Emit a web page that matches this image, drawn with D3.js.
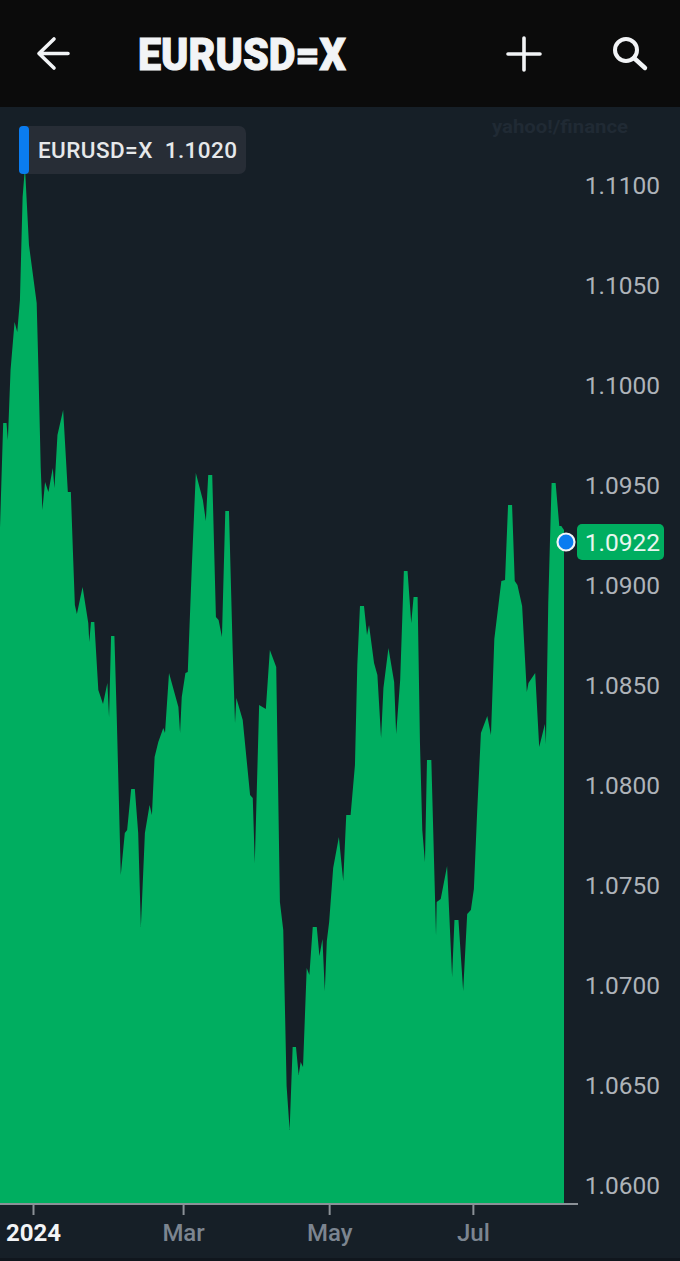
<!DOCTYPE html>
<html>
<head>
<meta charset="utf-8">
<script src="https://cdn.jsdelivr.net/npm/d3@7"></script>
<style>
  html,body{margin:0;padding:0;background:#161f27;}
  svg{display:block;}
  text{font-family:Roboto,"Noto Sans",sans-serif;}
</style>
</head>
<body>
<svg id="chart" width="680" height="1261"></svg>
<script>
const symbol = 'EURUSD=X';
const legendValue = '1.1020';
const lastValue = 1.0922;

// x is in trading sessions counted from the first one of 2024
const sessions = [-9.9,-8.9,-7.9,-7.5,-6.7,-5.5,-4.7,-3.9,-3.1,-2.4,-1.2,1.1,1.6,2.3,2.8,3.6,4.6,5.9,6.4,7.3,9.0,10.4,11.3,11.9,12.5,13.1,14.8,16.5,16.8,17.3,18.3,19.5,20.9,22.2,22.7,23.3,24.3,25.0,26.2,27.4,28.1,29.3,30.4,31.4,32.2,33.4,34.8,35.5,36.3,37.4,38.9,39.4,40.6,43.4,43.9,44.4,45.5,46.2,47.4,48.6,50.7,51.6,52.3,53.5,54.6,55.4,56.4,57.4,58.5,59.6,60.3,60.7,62.6,64.8,65.6,66.2,67.5,69.5,70.7,72.6,73.7,74.7,75.7,76.6,77.5,78.5,79.3,79.9,80.6,81.7,82.5,83.5,84.7,85.5,86.4,87.1,87.7,88.4,89.6,91.3,92.6,93.5,94.8,96.1,96.8,97.6,98.8,99.7,100.3,101.8,102.8,103.9,104.6,106.1,107.8,108.4,109.6,110.7,111.8,112.9,113.6,114.8,115.5,116.2,117.0,117.6,118.9,120.3,120.5,121.7,123.6,125.1,125.8,127.0,128.4,129.6,130.7,131.6,132.6,133.7,135.6,136.7,137.7,139.8,140.9,141.8,143.0,143.8,144.6,146.0,147.4,147.9,149.9,151.1,152.8,153.1,153.8,154.8,156.0,157.1,157.7,158.5];
const closes = [1.09255,1.09805,1.09805,1.0972,1.1007,1.1031,1.1026,1.1042,1.10935,1.11085,1.10695,1.10405,1.10085,1.09585,1.0937,1.0951,1.0946,1.0958,1.0948,1.09745,1.0987,1.0946,1.0946,1.0917,1.08895,1.0885,1.08985,1.08805,1.0871,1.0881,1.0881,1.0847,1.084,1.08505,1.08335,1.0874,1.0874,1.08335,1.07545,1.07755,1.0777,1.07975,1.07975,1.07755,1.07285,1.07755,1.07895,1.07845,1.08135,1.0821,1.0828,1.08255,1.08555,1.08385,1.08255,1.08435,1.08555,1.0856,1.09085,1.09555,1.0942,1.09315,1.09545,1.09545,1.08835,1.0882,1.08735,1.09365,1.09365,1.0867,1.08305,1.0843,1.0832,1.07945,1.0793,1.07605,1.08395,1.08375,1.0867,1.08585,1.0741,1.0727,1.0649,1.0627,1.06685,1.06685,1.06545,1.0661,1.06585,1.0708,1.07045,1.07285,1.07285,1.0714,1.07225,1.06965,1.07215,1.0731,1.0758,1.07735,1.07515,1.07845,1.07845,1.08095,1.08595,1.0889,1.0889,1.08745,1.08795,1.08605,1.08545,1.0823,1.0848,1.0868,1.0851,1.0825,1.0852,1.09065,1.09065,1.08805,1.08935,1.08935,1.0821,1.0777,1.0761,1.0812,1.0812,1.07245,1.0741,1.07425,1.0759,1.07035,1.0732,1.0732,1.06965,1.0735,1.0737,1.07475,1.0787,1.08255,1.0834,1.08245,1.08725,1.09015,1.0902,1.09395,1.09395,1.09015,1.08995,1.0889,1.0846,1.08505,1.08555,1.08185,1.083,1.082,1.08905,1.09505,1.09505,1.0929,1.0929,1.0927];

const yTicks = [1.06,1.065,1.07,1.075,1.08,1.085,1.09,1.095,1.10,1.105,1.11];
const xTicks = [0,44.8,88.4,131.3];
const xTickLabels = ['2024','Mar','May','Jul'];

const GREEN = '#00ae60', BLUE = '#0a7cf0', BG = '#161f27';
const AXIS_Y = 1204;
const LABEL_SHIFT = 2; // the price labels sit a little below their level

const svg = d3.select('#chart');
const x = d3.scaleLinear().domain([0,158.5]).range([33,564]);
const y = d3.scaleLinear().domain([1.06,1.11]).range([1184,184]);

svg.append('rect').attr('width',680).attr('height',1261).attr('fill',BG);
svg.append('rect').attr('y',1258).attr('width',680).attr('height',3).attr('fill','#10161d');

// header bar
svg.append('rect').attr('width',680).attr('height',107).attr('fill','#0b0b0b');
svg.append('text').attr('x',138).attr('y',70)
  .attr('font-size',45).attr('font-weight',900).attr('fill','#f2f4f6')
  .attr('stroke','#f2f4f6').attr('stroke-width',1)
  .attr('textLength',208).attr('lengthAdjust','spacingAndGlyphs')
  .text(symbol);
const icons = svg.append('g').attr('fill','none').attr('stroke','#f2f4f6')
  .attr('stroke-width',3.6).attr('stroke-linecap','round').attr('stroke-linejoin','round');
icons.append('path').attr('d','M68 53.5H39M54 39L39 53.5L54 68');
icons.append('path').attr('d','M524 38V70M508 54H540');
icons.append('circle').attr('cx',626).attr('cy',50).attr('r',11).attr('stroke-width',4);
icons.append('path').attr('d','M634 58L645 68').attr('stroke-width',4.4);

// watermark
svg.append('text').attr('x',492).attr('y',133).attr('font-size',19).attr('font-weight',700)
  .attr('fill','#202a34').attr('textLength',136).attr('lengthAdjust','spacingAndGlyphs')
  .text('yahoo!/finance');

// area
const series = sessions.map((s,i)=>({s, c:closes[i]}));
const area = d3.area().x(d=>x(d.s)).y0(AXIS_Y).y1(d=>y(d.c)).curve(d3.curveLinear);
svg.append('path').datum(series).attr('d',area).attr('fill',GREEN);

// bottom axis
const xAxis = d3.axisBottom(x).tickValues(xTicks).tickSize(11).tickPadding(9)
  .tickFormat((d,i)=>xTickLabels[i]);
const gx = svg.append('g').attr('transform',`translate(0,${AXIS_Y})`).call(xAxis);
gx.select('.domain').remove();
gx.insert('line',':first-child').attr('x1',0).attr('x2',578).attr('stroke','#8b9197').attr('stroke-width',2);
gx.selectAll('.tick line').attr('stroke','#8b9197').attr('stroke-width',2);
gx.selectAll('.tick text').attr('font-size',24).attr('font-family','Roboto,sans-serif').attr('font-weight',500)
  .attr('fill','#7c8590');
gx.selectAll('.tick text').filter((d,i)=>i===0).attr('font-weight',700).attr('fill','#f2f4f6');

// right axis
const yAxis = d3.axisRight(y).tickValues(yTicks).tickSize(0).tickPadding(0).tickFormat(d3.format('.4f'));
const gy = svg.append('g').attr('transform',`translate(660,${LABEL_SHIFT})`).call(yAxis);
gy.select('.domain').remove();
gy.selectAll('.tick text').attr('text-anchor','end').attr('font-size',24.5)
  .attr('font-family','Roboto,sans-serif').attr('fill','#aeb3b9');

// last price badge and dot
const lastY = y(lastValue)+LABEL_SHIFT;
svg.append('rect').attr('x',577).attr('y',lastY-18).attr('width',87).attr('height',36).attr('rx',5).attr('fill',GREEN);
svg.append('text').attr('x',660).attr('y',lastY).attr('dy','0.36em').attr('text-anchor','end')
  .attr('font-size',24.5).attr('fill','#e8f6ef').text(d3.format('.4f')(lastValue));
svg.append('circle').attr('cx',566).attr('cy',lastY).attr('r',8.5)
  .attr('fill',BLUE).attr('stroke','#f2f4f6').attr('stroke-width',2.2);

// legend chip
svg.append('rect').attr('x',19).attr('y',126).attr('width',227).attr('height',48).attr('rx',7).attr('fill','#272d36');
svg.append('rect').attr('x',19).attr('y',126).attr('width',10).attr('height',48).attr('rx',4).attr('fill',BLUE);
svg.append('text').attr('x',38).attr('y',158).attr('font-size',22.5).attr('font-weight',500).attr('fill','#e6e8ea')
  .attr('textLength',199).attr('xml:space','preserve').text(symbol+'  '+legendValue);
</script>
</body>
</html>
